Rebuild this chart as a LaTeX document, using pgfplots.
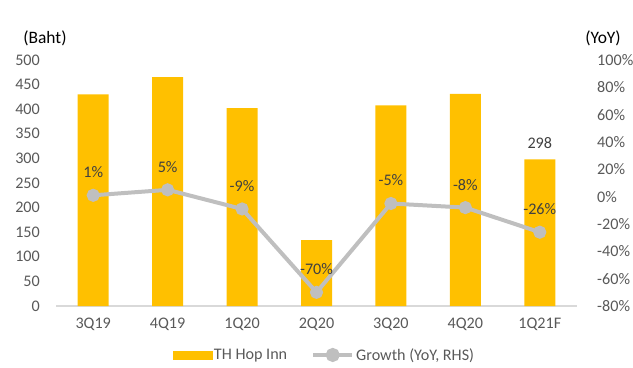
\documentclass[border=0pt]{standalone}
\usepackage{fontspec}
\setmainfont{Carlito}
\usepackage{pgfplots}
\usepackage{pgfplotstable}
\pgfplotsset{compat=1.18}
\definecolor{barc}{HTML}{FFC000}
\definecolor{linec}{HTML}{BFBFBF}
\definecolor{tickc}{HTML}{595959}
\definecolor{labc}{HTML}{404040}
\definecolor{axc}{HTML}{D9D9D9}

\pgfplotstableread{
x y lab
0 430 {}
1 465 {}
2 402 {}
3 134 {}
4 408 {}
5 431 {}
6 298 298
}\bars

\pgfplotstableread{
x y lab
0 1 1
1 5 5
2 -9 -9
3 -70 -70
4 -5 -5
5 -8 -8
6 -26 -26
}\growth

\newcommand{\cf}{\fontsize{16.2}{19}\selectfont}
\newcommand{\tf}{\fontsize{17.5}{20}\selectfont}

\pgfplotsset{
  common/.style={
    at={(56bp,61bp)}, anchor=south west,
    scale only axis, width=521bp, height=246bp,
    xmin=-0.5, xmax=6.5,
    major tick length=0pt,
    /pgf/number format/assume math mode=true,
    tick label style={font=\cf, text=tickc},
    clip=false,
  }
}

\begin{document}
\begin{tikzpicture}[x=1bp,y=1bp]
\useasboundingbox (0,0) rectangle (633,367);
\begin{axis}[common,
  ymin=0, ymax=500, ytick={0,50,...,500},
  axis x line*=bottom, axis y line*=left,
  y axis line style={draw=none},
  x axis line style={draw=axc, line width=1.2bp},
  xtick={0,...,6},
  xticklabels={3Q19,4Q19,1Q20,2Q20,3Q20,4Q20,1Q21F},
  xticklabel style={anchor=north, inner sep=0pt, yshift=-12bp},
  yticklabel style={anchor=east, inner sep=0pt, xshift=-16bp},
]
\addplot[ybar, bar width=31bp, bar shift=0pt, fill=barc, draw=none,
  nodes near coords={\pgfplotspointmeta}, point meta=explicit symbolic,
  every node near coord/.append style={font=\cf, text=labc, anchor=center, yshift=16bp}]
  table[x=x, y=y, meta=lab] {\bars};
\end{axis}
\begin{axis}[common,
  ymin=-80, ymax=100, ytick={-80,-60,...,100},
  axis x line=none, axis y line*=right,
  y axis line style={draw=none},
  yticklabel={\pgfmathprintnumber{\tick}\%},
  yticklabel style={anchor=west, inner sep=0pt, xshift=20bp},
  legend style={at={(0.515,-0.199)}, anchor=center, draw=none, fill=none,
    font=\cf, text=tickc, legend columns=2,
    /tikz/every even column/.append style={column sep=22bp}},
]
\addlegendimage{legend image code/.code={\fill[barc] (0bp,-4bp) rectangle (39bp,4bp);}}
\addlegendentry{TH Hop Inn}
\addplot[linec, line width=4bp, mark=*, mark size=4.5bp,
  mark options={fill=linec, draw=linec},
  legend image code/.code={\draw[linec, line width=4bp] (0bp,0bp) -- (39bp,0bp); \fill[linec] (19.5bp,0bp) circle (5bp);},
  nodes near coords={\pgfplotspointmeta\%}, point meta=explicit symbolic,
  every node near coord/.append style={font=\cf, text=labc, anchor=center, yshift=23bp}]
  table[x=x, y=y, meta=lab] {\growth};
\addlegendentry{Growth (YoY, RHS)}
\end{axis}
\node[font=\tf, text=black] at (45,329) {(Baht)};
\node[font=\tf, text=black] at (603,329) {(YoY)};
\end{tikzpicture}
\end{document}
